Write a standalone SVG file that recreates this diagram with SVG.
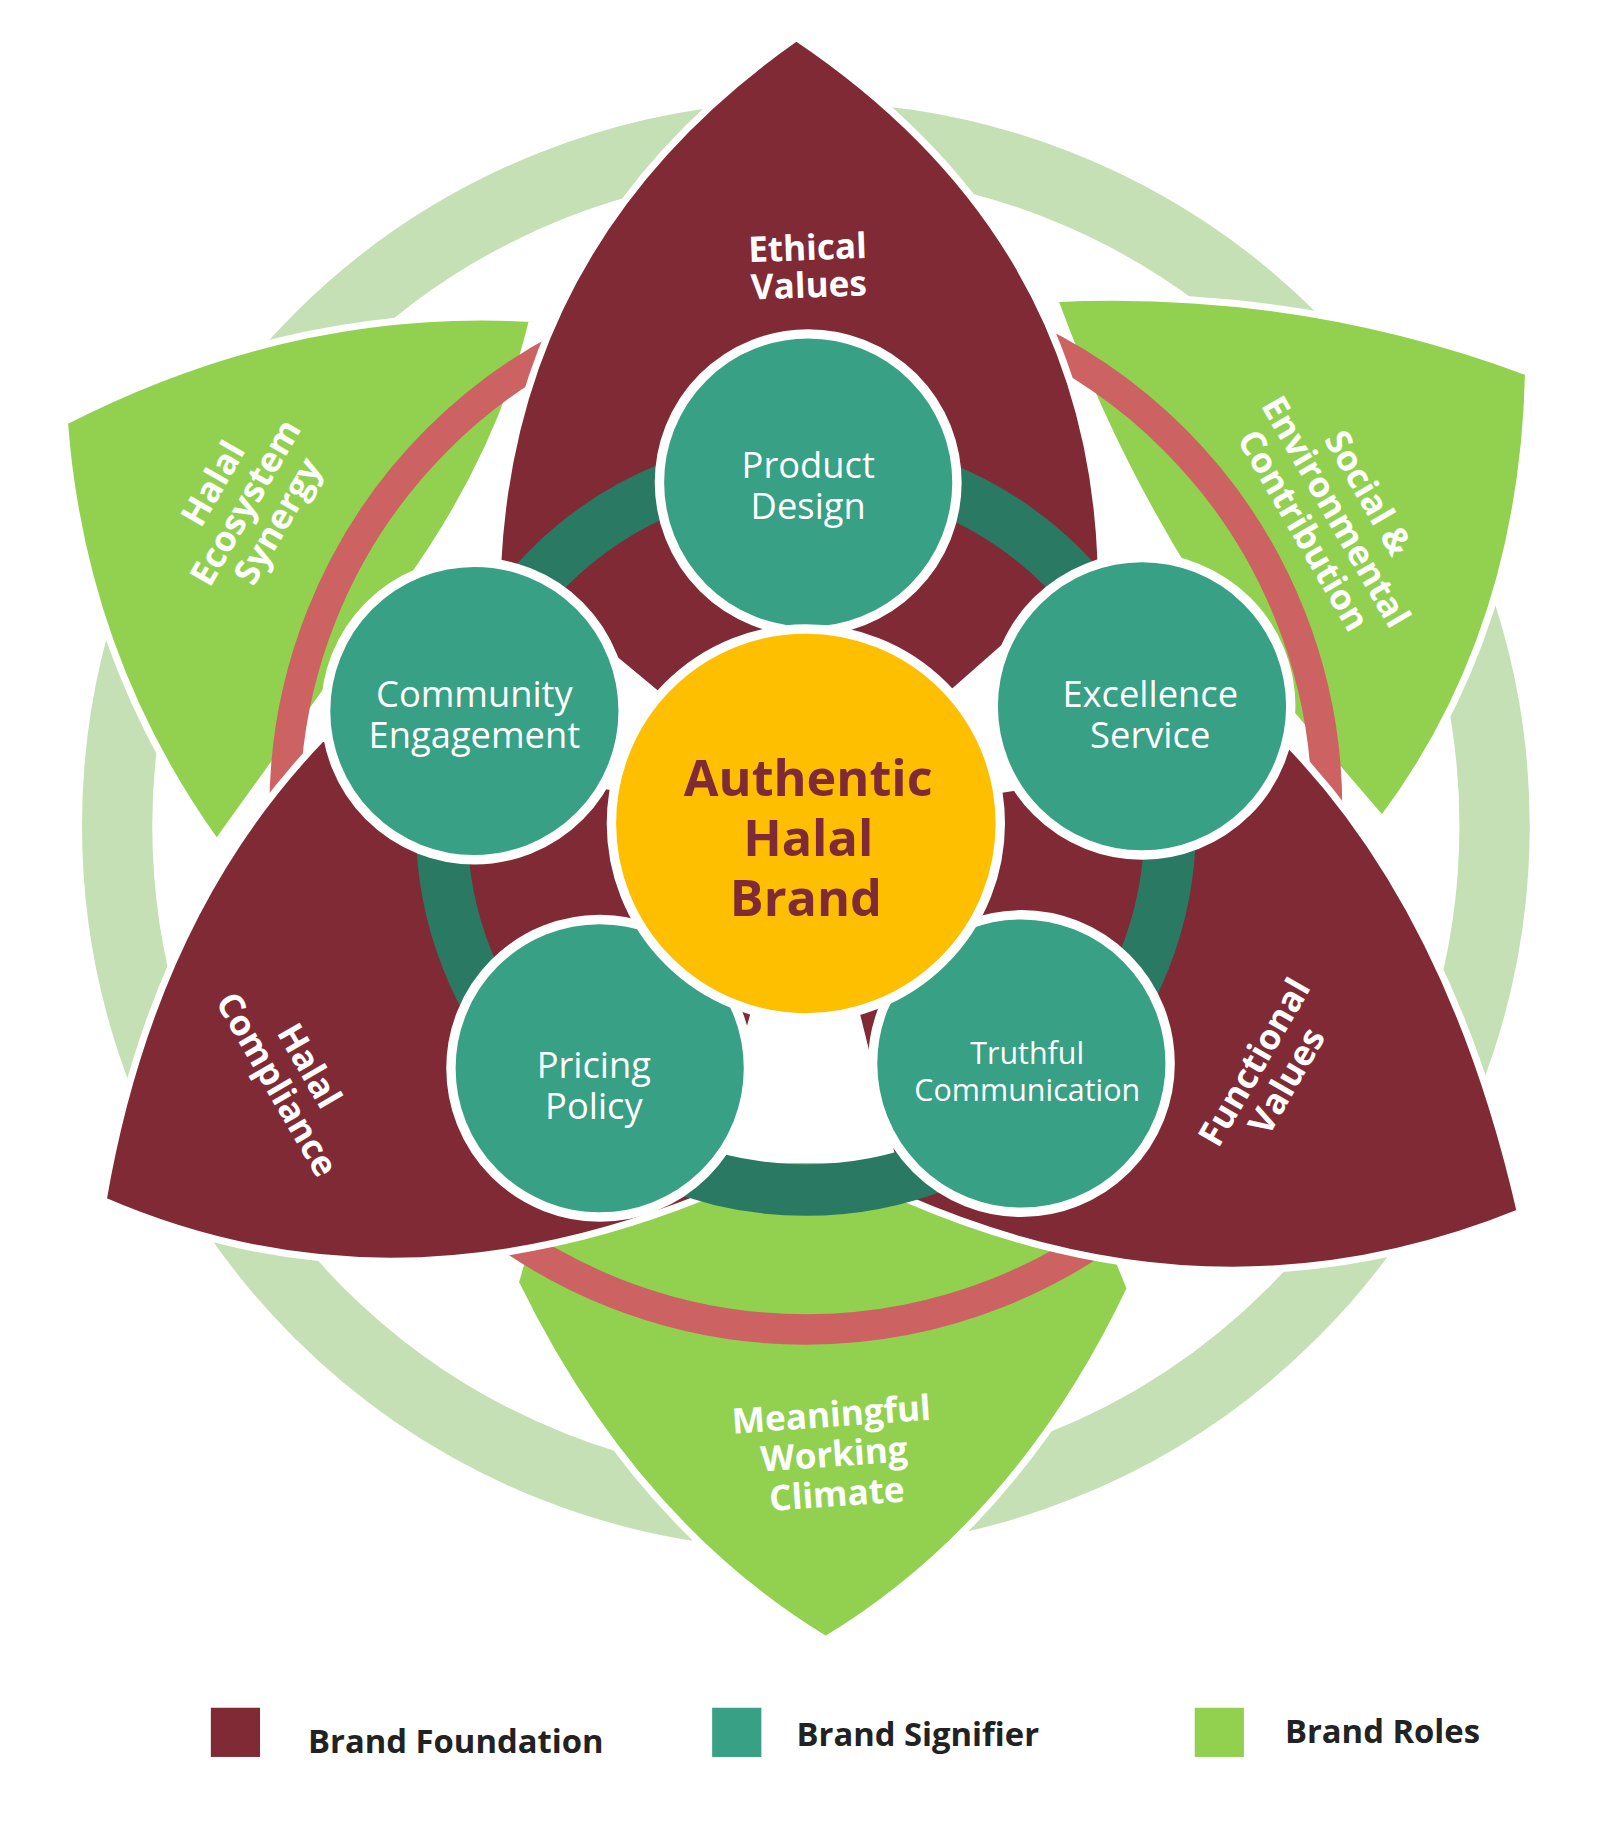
<svg xmlns="http://www.w3.org/2000/svg" width="1600" height="1828" viewBox="0 0 1600 1828">
<style>
.maroon{fill:#7f2a35;stroke:#fff;stroke-width:6}
.green{fill:#92d050;stroke:#fff;stroke-width:6}
.teal{fill:#38a085;stroke:#fff;stroke-width:8}
.lbl{font-family:"Open Sans","Liberation Sans",sans-serif;font-weight:700;fill:#fff;font-size:30px;text-anchor:middle}
.tl{font-family:"Open Sans","Liberation Sans",sans-serif;fill:#fff;font-size:31px;text-anchor:middle}
.leg{font-family:"Open Sans","Liberation Sans",sans-serif;font-weight:700;fill:#222;font-size:28px}
</style>
<rect width="1600" height="1828" fill="#fff"/>
<g transform="scale(1.1713)">
<g id="outer-ring">
<circle cx="688" cy="705" r="588" fill="none" stroke="#c5e0b4" stroke-width="60"/>
</g>
<g id="roles">
<path class="green" d="M55,360 Q250,260 455,272 Q420,420 300,560 L185,720 Q70,560 55,360 Z"/>
<path class="green" d="M900,255 Q1110,245 1305,318 Q1300,540 1180,700 L1060,560 Q960,420 900,255 Z"/>
<path class="green" d="M470,990 L920,990 L965,1100 Q870,1300 705,1400 Q540,1300 440,1095 Z"/>
</g>
<g id="pink-ring">
<circle cx="688" cy="690" r="445" fill="none" stroke="#cd6262" stroke-width="26"/>
</g>
<g id="foundation">
<path class="maroon" d="M680,32 Q440,200 425,480 L690,700 L940,480 Q930,200 680,32 Z"/>
<path class="maroon" d="M88,1025 Q130,780 275,630 L690,700 L600,1022 Q330,1130 88,1025 Z"/>
<path class="maroon" d="M1298,1035 Q1240,780 1100,635 L690,700 L770,1022 Q1040,1140 1298,1035 Z"/>
</g>
<g id="signifier-ring">
<circle cx="688" cy="705" r="311" fill="none" stroke="#2a7a63" stroke-width="44"/>
</g>
<g id="product-design"><circle class="teal" cx="690" cy="412" r="127"/>
<text class="tl" x="690" y="408">Product</text><text class="tl" x="690" y="443">Design</text></g>
<g id="community-engagement"><circle class="teal" cx="405" cy="607" r="127"/>
<text class="tl" x="405" y="604">Community</text><text class="tl" x="405" y="639">Engagement</text></g>
<g id="excellence-service"><circle class="teal" cx="975" cy="603" r="127"/>
<text class="tl" x="982" y="604">Excellence</text><text class="tl" x="982" y="639">Service</text></g>
<g id="pricing-policy"><circle class="teal" cx="512" cy="912" r="127"/>
<text class="tl" x="507" y="920">Pricing</text><text class="tl" x="507" y="955">Policy</text></g>
<g id="truthful-communication"><circle class="teal" cx="872" cy="908" r="127"/>
<text class="tl" x="877" y="908" style="font-size:26px">Truthful</text><text class="tl" x="877" y="940" style="font-size:26px">Communication</text></g>
<g id="center"><circle cx="688" cy="703" r="166" fill="#fdbf00" stroke="#fff" stroke-width="8"/>
<g font-family="'Open Sans','Liberation Sans',sans-serif" font-weight="700" font-size="43" fill="#7f2a35" text-anchor="middle">
<text x="690" y="680">Authentic</text><text x="690" y="731">Halal</text><text x="688" y="782">Brand</text></g></g>
<g id="labels">
<g transform="translate(690,228) rotate(-2)"><text class="lbl" y="-6">Ethical</text><text class="lbl" y="26">Values</text></g>
<g transform="translate(215,432) rotate(-60)"><text class="lbl" y="-28">Halal</text><text class="lbl" y="4">Ecosystem</text><text class="lbl" y="36">Synergy</text></g>
<g transform="translate(1135,440) rotate(60)"><text class="lbl" y="-28">Social &amp;</text><text class="lbl" y="4">Environmental</text><text class="lbl" y="36">Contribution</text></g>
<g transform="translate(250,918) rotate(60)"><text class="lbl" y="-6">Halal</text><text class="lbl" y="26">Compliance</text></g>
<g transform="translate(1085,915) rotate(-60)"><text class="lbl" y="-6">Functional</text><text class="lbl" y="26">Values</text></g>
<g transform="translate(712,1240) rotate(-4)"><text class="lbl" y="-22">Meaningful</text><text class="lbl" y="12">Working</text><text class="lbl" y="46">Climate</text></g>
</g>
<g id="legend">
<rect x="180" y="1458" width="42" height="42" fill="#7f2a35"/><text class="leg" x="263" y="1497">Brand Foundation</text>
<rect x="608" y="1458" width="42" height="42" fill="#38a085"/><text class="leg" x="680" y="1491">Brand Signifier</text>
<rect x="1020" y="1458" width="42" height="42" fill="#92d050"/><text class="leg" x="1097" y="1488">Brand Roles</text>
</g>
</g>
</svg>
